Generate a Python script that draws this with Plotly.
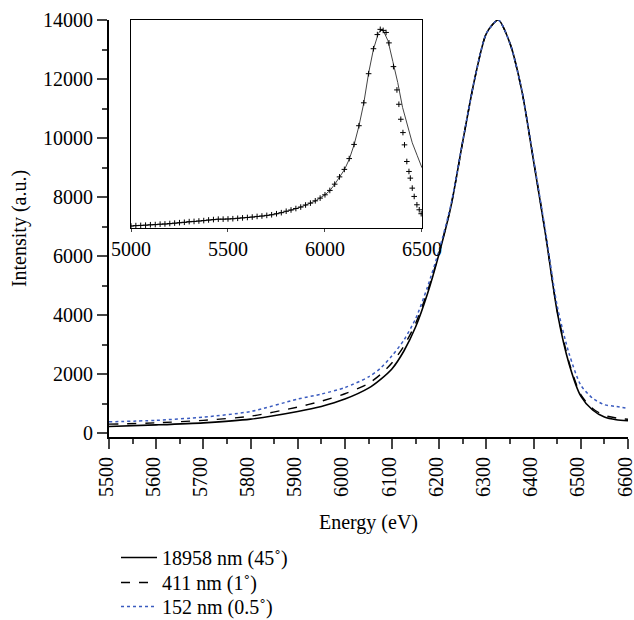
import plotly.graph_objects as go

# ---- main chart data ----
energy = [5500, 5600, 5700, 5800, 5900, 5950, 6000, 6050, 6075, 6100, 6125, 6150, 6175,
          6200, 6225, 6250, 6275, 6300, 6325, 6350, 6375, 6400, 6425, 6450, 6475,
          6500, 6525, 6550, 6575, 6600]
solid_45 = [220, 275, 345, 470, 730, 900, 1150, 1520, 1810, 2180, 2780, 3600, 4720,
            6100, 7700, 9900, 12000, 13550, 14000, 13200, 11600, 9200, 6750, 4100, 2350,
            1250, 780, 540, 450, 420]
dashed_1 = [300, 345, 430, 570, 880, 1080, 1330, 1680, 1980, 2380, 2950, 3720, 4800,
            6130, 7720, 9900, 12000, 13550, 14000, 13200, 11600, 9220, 6780, 4150, 2400,
            1300, 830, 600, 510, 465]
dotted_05 = [380, 430, 540, 730, 1150, 1320, 1540, 1900, 2190, 2620, 3150, 3880, 4950,
             6220, 7760, 9920, 12000, 13550, 14000, 13200, 11620, 9260, 6850, 4300, 2700,
             1620, 1180, 960, 900, 835]
names = ["18958 nm (45˚)", "411 nm (1˚)", "152 nm (0.5˚)"]
y_ticks = [0, 2000, 4000, 6000, 8000, 10000, 12000, 14000]
x_ticks = [5500, 5600, 5700, 5800, 5900, 6000, 6100, 6200, 6300, 6400, 6500, 6600]

# ---- inset data (normalised) ----
inset_ticks = [5000, 5500, 6000, 6500]
inset_line_e = [5000, 5050, 5100, 5150, 5200, 5250, 5300, 5350, 5400, 5450, 5500,
                5550, 5600, 5650, 5700, 5750, 5800, 5850, 5900, 5950, 6000, 6025,
                6050, 6075, 6100, 6125, 6150, 6175, 6200, 6225, 6250, 6275, 6290,
                6300, 6325, 6350, 6375, 6400, 6425, 6450, 6475, 6500]
inset_line_v = [0.010, 0.012, 0.015, 0.018, 0.020, 0.025, 0.030, 0.033, 0.038, 0.042, 0.043,
                0.046, 0.050, 0.055, 0.060, 0.068, 0.080, 0.093, 0.110, 0.130, 0.160, 0.180,
                0.210, 0.245, 0.280, 0.330, 0.400, 0.490, 0.600, 0.745, 0.860, 0.935, 0.955,
                0.950, 0.900, 0.800, 0.700, 0.580, 0.490, 0.410, 0.350, 0.290]
inset_mark_e = [5000, 5025, 5050, 5075, 5100, 5125, 5150, 5175, 5200, 5225, 5250, 5275,
                5300, 5325, 5350, 5375, 5400, 5425, 5450, 5475, 5500, 5525, 5550, 5575,
                5600, 5625, 5650, 5675, 5700, 5725, 5750, 5775, 5800, 5825, 5850, 5875,
                5900, 5925, 5950, 5975, 6000, 6025, 6050, 6075, 6100, 6125, 6150, 6175,
                6200, 6225, 6250, 6270, 6285, 6300, 6315, 6330, 6353, 6371, 6381, 6391,
                6402, 6410, 6422, 6433, 6440, 6450, 6460, 6474, 6486, 6496]
inset_mark_v = [0.010, 0.012, 0.013, 0.014, 0.016, 0.017, 0.019, 0.020, 0.022, 0.024, 0.026, 0.028,
                0.031, 0.032, 0.034, 0.036, 0.039, 0.041, 0.043, 0.043, 0.044, 0.045, 0.047, 0.049,
                0.051, 0.053, 0.056, 0.058, 0.061, 0.064, 0.069, 0.074, 0.081, 0.087, 0.094, 0.101,
                0.111, 0.120, 0.131, 0.144, 0.160, 0.181, 0.211, 0.246, 0.282, 0.334, 0.402, 0.492,
                0.602, 0.742, 0.862, 0.930, 0.955, 0.950, 0.940, 0.890, 0.776, 0.664, 0.595, 0.523,
                0.459, 0.400, 0.320, 0.272, 0.240, 0.192, 0.152, 0.112, 0.088, 0.069]

FONT = "Liberation Serif"
FS = 20
fig = go.Figure()
fig.add_trace(go.Scatter(x=energy, y=solid_45, mode="lines", name=names[0], legend="legend",
                         line=dict(color="black", width=1.6, shape="spline", smoothing=0.7)))
fig.add_trace(go.Scatter(x=energy, y=dashed_1, mode="lines", name=names[1], legend="legend2",
                         line=dict(color="black", width=1.4, dash="dash", shape="spline", smoothing=0.7)))
fig.add_trace(go.Scatter(x=energy, y=dotted_05, mode="lines", name=names[2], legend="legend3",
                         line=dict(color="#3a5bbf", width=1.5, dash="dot", shape="spline", smoothing=0.7)))

fig.add_trace(go.Scatter(x=inset_line_e, y=inset_line_v, mode="lines", showlegend=False,
                         xaxis="x2", yaxis="y2", line=dict(color="#444", width=1)))
fig.add_trace(go.Scatter(x=inset_mark_e, y=inset_mark_v, mode="markers", showlegend=False,
                         xaxis="x2", yaxis="y2",
                         marker=dict(symbol="cross-thin", size=4, line=dict(color="black", width=1))))

leg_common = dict(x=0.0135, xanchor="left", yanchor="top", bgcolor="rgba(0,0,0,0)",
                  font=dict(family=FONT, size=FS), tracegroupgap=0, itemwidth=36)

fig.update_layout(
    width=634, height=620,
    margin=dict(l=109, r=6, t=20, b=183, autoexpand=False),
    paper_bgcolor="white", plot_bgcolor="white",
    font=dict(family=FONT, size=FS, color="black"),
    xaxis=dict(range=[5500, 6600], tickvals=x_ticks, tickangle=-90, automargin=False,
               tickfont=dict(family=FONT, size=FS), ticklabeloverflow="allow",
               ticklabelshift=-3,
               ticks="outside", ticklen=10, tickwidth=2, showline=True, linewidth=2,
               linecolor="black", showgrid=False, zeroline=False,
               minor=dict(ticks="outside", ticklen=5, tickwidth=2, dtick=50, tick0=5500),
               title=dict(text="Energy (eV)", font=dict(family=FONT, size=FS), standoff=19)),
    yaxis=dict(range=[-135, 14000], tickvals=y_ticks, tickformat="d", automargin=False,
               tickfont=dict(family=FONT, size=FS),
               ticks="outside", ticklen=10, tickwidth=2, showline=True, linewidth=2,
               linecolor="black", showgrid=False, zeroline=False,
               minor=dict(ticks="outside", ticklen=5, tickwidth=2, dtick=1000, tick0=0),
               title=dict(text="Intensity (a.u.)", font=dict(family=FONT, size=FS), standoff=11)),
    xaxis2=dict(domain=[0.0424, 0.603], anchor="y2", range=[5000, 6500], automargin=False,
                tickvals=inset_ticks, ticks="outside", ticklen=3, tickwidth=1,
                tickfont=dict(family=FONT, size=FS), ticklabeloverflow="allow",
                showline=True, linewidth=1.2, linecolor="black", mirror=True,
                showgrid=False, zeroline=False),
    yaxis2=dict(domain=[0.501, 1.0], anchor="x2", range=[0, 1], automargin=False,
                showticklabels=False, ticks="", showline=True, linewidth=1.2,
                linecolor="black", mirror=True, showgrid=False, zeroline=False),
    legend=dict(y=-0.2422, **leg_common),
    legend2=dict(y=-0.3022, **leg_common),
    legend3=dict(y=-0.3597, **leg_common),
    showlegend=True,
)

fig.write_html("out.html", config={"displayModeBar": False},
               post_script="document.body.style.margin='0';document.body.style.overflow='hidden';")
